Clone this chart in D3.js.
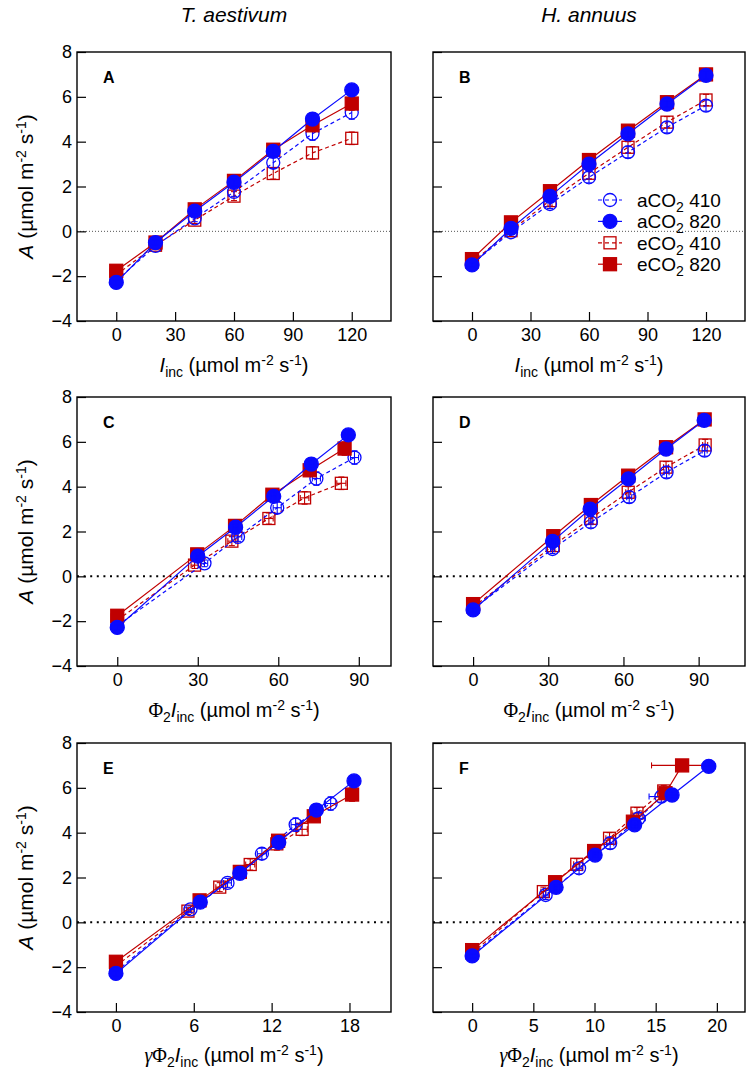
<!DOCTYPE html>
<html><head><meta charset="utf-8">
<script src="https://cdn.jsdelivr.net/npm/d3@7"></script>
<style>body{margin:0;background:#fff}svg{display:block}</style>
</head><body>
<svg id="chart" width="750" height="1075"></svg>
<script>
// ---------------- DATA ----------------
const speciesNames = ["T. aestivum", "H. annuus"];
const seriesNames = ["aCO2 410", "aCO2 820", "eCO2 410", "eCO2 820"];
const iinc = [0, 20, 40, 60, 80, 100, 120];
const subsetIdx = [0, 2, 3, 4, 5, 6]; // points shown in panels C-F

// T. aestivum net assimilation A
const ta_a410_A = [-2.20, -0.65, 0.58, 1.76, 3.06, 4.36, 5.30];
const ta_a820_A = [-2.28, -0.50, 0.90, 2.19, 3.57, 5.01, 6.31];
const ta_e410_A = [-1.95, -0.62, 0.50, 1.57, 2.58, 3.50, 4.15];
const ta_e820_A = [-1.76, -0.50, 0.98, 2.25, 3.64, 4.73, 5.70];
const ta_a410_Ase = [0.12, 0.10, 0.15, 0.20, 0.25, 0.30, 0.30];
const ta_a820_Ase = [0.10, 0.10, 0.12, 0.15, 0.20, 0.20, 0.20];
const ta_e410_Ase = [0.10, 0.10, 0.15, 0.20, 0.25, 0.28, 0.28];
const ta_e820_Ase = [0.10, 0.10, 0.12, 0.15, 0.20, 0.25, 0.30];
// T. aestivum Phi2*Iinc
const ta_a410_phi = [0, 32.5, 45.0, 59.6, 74.2, 88.4];
const ta_a820_phi = [0, 30.0, 44.1, 58.3, 72.3, 86.1];
const ta_e410_phi = [0, 28.8, 42.7, 56.5, 69.8, 83.5];
const ta_e820_phi = [0, 29.8, 43.9, 57.8, 71.7, 84.7];
const ta_a410_phiSe = [0, 1.2, 1.4, 1.5, 1.5, 1.5];
const ta_a820_phiSe = [0, 0.8, 1.0, 1.0, 1.0, 1.2];
const ta_e410_phiSe = [0, 1.3, 1.5, 1.6, 1.6, 1.7];
const ta_e820_phiSe = [0, 0.8, 1.0, 1.0, 1.0, 1.2];
// T. aestivum gamma*Phi2*Iinc
const ta_a410_g = [0, 5.75, 8.60, 11.25, 13.85, 16.55];
const ta_a820_g = [0, 6.50, 9.55, 12.55, 15.45, 18.35];
const ta_e410_g = [0, 5.55, 8.00, 10.35, 12.40, 14.35];
const ta_e820_g = [0, 6.45, 9.55, 12.50, 15.25, 18.20];
const ta_a410_gSe = [0, 0.30, 0.30, 0.35, 0.35, 0.40];
const ta_a820_gSe = [0, 0.20, 0.20, 0.25, 0.25, 0.30];
const ta_e410_gSe = [0, 0.30, 0.30, 0.35, 0.35, 0.40];
const ta_e820_gSe = [0, 0.20, 0.20, 0.25, 0.25, 0.30];

// H. annuus net assimilation A
const ha_a410_A = [-1.45, -0.04, 1.22, 2.41, 3.53, 4.64, 5.61];
const ha_a820_A = [-1.50, 0.13, 1.56, 3.00, 4.35, 5.68, 6.96];
const ha_e410_A = [-1.38, 0.03, 1.37, 2.59, 3.75, 4.87, 5.86];
const ha_e820_A = [-1.24, 0.40, 1.79, 3.18, 4.49, 5.76, 7.00];
const ha_a410_Ase = [0.10, 0.10, 0.20, 0.25, 0.25, 0.25, 0.25];
const ha_a820_Ase = [0.10, 0.10, 0.12, 0.15, 0.15, 0.15, 0.15];
const ha_e410_Ase = [0.10, 0.10, 0.20, 0.25, 0.25, 0.25, 0.25];
const ha_e820_Ase = [0.10, 0.10, 0.12, 0.15, 0.15, 0.15, 0.15];
// H. annuus Phi2*Iinc
const ha_a410_phi = [0, 31.7, 47.0, 62.3, 77.2, 92.4];
const ha_a820_phi = [0, 31.7, 46.7, 62.0, 77.0, 92.2];
const ha_e410_phi = [0, 32.0, 47.0, 61.9, 77.0, 92.6];
const ha_e820_phi = [0, 32.0, 47.0, 61.9, 77.0, 92.4];
const ha_a410_phiSe = [0, 0.8, 0.8, 1.0, 1.0, 1.0];
const ha_a820_phiSe = [0, 0.8, 0.8, 1.0, 1.0, 1.0];
const ha_e410_phiSe = [0, 0.8, 0.8, 1.0, 1.0, 1.0];
const ha_e820_phiSe = [0, 0.8, 0.8, 1.0, 1.0, 1.0];
// H. annuus gamma*Phi2*Iinc
const ha_a410_g = [0, 6.01, 8.74, 11.28, 13.60, 15.46];
const ha_a820_g = [0, 6.86, 10.05, 13.28, 16.34, 19.34];
const ha_e410_g = [0, 5.82, 8.55, 11.23, 13.47, 15.66];
const ha_e820_g = [0, 6.78, 9.97, 13.14, 15.80, 17.16];
const ha_a410_gSe = [0, 0.20, 0.25, 0.30, 0.55, 1.00];
const ha_a820_gSe = [0, 0.20, 0.20, 0.30, 0.40, 0.55];
const ha_e410_gSe = [0, 0.20, 0.25, 0.30, 0.40, 0.40];
const ha_e820_gSe = [0, 0.20, 0.25, 0.30, 0.40, 2.50];

// tick labels
const yTicks = [-4, -2, 0, 2, 4, 6, 8];
const xTicksI = [0, 30, 60, 90, 120];
const xTicksPhi = [0, 30, 60, 90];
const xTicksGTa = [0, 6, 12, 18];
const xTicksGHa = [0, 5, 10, 15, 20];
const panelLetters = ["A", "B", "C", "D", "E", "F"];

// ---------------- STYLE / LAYOUT ----------------
const BLUE = "#0a0aff", RED = "#c00000";
const FONT = "'Liberation Sans', Arial, Helvetica, sans-serif";
const SERIF = "'Liberation Serif', 'Times New Roman', serif";
const colX = [[77, 391], [433, 745]];
const rowY = [52, 397, 743];
const PH = 269;

const seriesStyle = [
  {color: BLUE, shape: "circle", filled: false, dash: "4,3"},
  {color: BLUE, shape: "circle", filled: true, dash: null},
  {color: RED, shape: "square", filled: false, dash: "4,3"},
  {color: RED, shape: "square", filled: true, dash: null}
];

const svg = d3.select("#chart");

const spData = [
  {A: [ta_a410_A, ta_a820_A, ta_e410_A, ta_e820_A],
   Ase: [ta_a410_Ase, ta_a820_Ase, ta_e410_Ase, ta_e820_Ase],
   phi: [ta_a410_phi, ta_a820_phi, ta_e410_phi, ta_e820_phi],
   phiSe: [ta_a410_phiSe, ta_a820_phiSe, ta_e410_phiSe, ta_e820_phiSe],
   g: [ta_a410_g, ta_a820_g, ta_e410_g, ta_e820_g],
   gSe: [ta_a410_gSe, ta_a820_gSe, ta_e410_gSe, ta_e820_gSe]},
  {A: [ha_a410_A, ha_a820_A, ha_e410_A, ha_e820_A],
   Ase: [ha_a410_Ase, ha_a820_Ase, ha_e410_Ase, ha_e820_Ase],
   phi: [ha_a410_phi, ha_a820_phi, ha_e410_phi, ha_e820_phi],
   phiSe: [ha_a410_phiSe, ha_a820_phiSe, ha_e410_phiSe, ha_e820_phiSe],
   g: [ha_a410_g, ha_a820_g, ha_e410_g, ha_e820_g],
   gSe: [ha_a410_gSe, ha_a820_gSe, ha_e410_gSe, ha_e820_gSe]}
];

const xDomains = [
  [[-20, 140], [-20, 140]],
  [[-15, 102], [-16, 108.5]],
  [[-3, 21.2], [-3.2, 22.3]]
];
const xTickSets = [[xTicksI, xTicksI], [xTicksPhi, xTicksPhi], [xTicksGTa, xTicksGHa]];

// rich text: segments with level (0 base, -1 sub, 1 sup)
function rich(t, segs) {
  let cur = 0;
  segs.forEach(s => {
    const lvl = s.lvl || 0;
    const target = lvl === -1 ? 5 : lvl === 1 ? -7 : 0;
    const ts = t.append("tspan").text(s.t);
    if (target !== cur) { ts.attr("dy", target - cur); cur = target; }
    if (lvl !== 0) ts.attr("font-size", 14);
    if (s.it) ts.attr("font-style", "italic");
    if (s.serif) ts.attr("font-family", SERIF);
  });
}
const unitSegs = [{t: " (µmol m"}, {t: "-2", lvl: 1}, {t: " s"}, {t: "-1", lvl: 1}, {t: ")"}];
function xLabelSegs(row) {
  const s = [];
  if (row >= 2) s.push({t: "γ", serif: true, it: true});
  if (row >= 1) { s.push({t: "Φ", serif: true}); s.push({t: "2", lvl: -1}); }
  s.push({t: "I", it: true}); s.push({t: "inc", lvl: -1});
  return s.concat(unitSegs);
}

function drawMarker(g, st, x, y) {
  if (st.shape === "circle") {
    const r = st.filled ? 7 : 6.5;
    g.append("circle").attr("cx", x).attr("cy", y).attr("r", r)
      .attr("fill", st.filled ? st.color : "none")
      .attr("stroke", st.color).attr("stroke-width", 1.3);
  } else {
    const s = st.filled ? 13 : 12;
    g.append("rect").attr("x", x - s / 2).attr("y", y - s / 2).attr("width", s).attr("height", s)
      .attr("fill", st.filled ? st.color : "none")
      .attr("stroke", st.color).attr("stroke-width", 1.3);
  }
}

for (let row = 0; row < 3; row++) {
  for (let col = 0; col < 2; col++) {
    const [x0, x1] = colX[col];
    const top = rowY[row], bot = top + PH;
    const x = d3.scaleLinear().domain(xDomains[row][col]).range([x0, x1]);
    const y = d3.scaleLinear().domain([-4, 8]).range([bot, top]);
    const g = svg.append("g");
    const sp = spData[col];

    // zero line
    const fine = row === 0;
    g.append("line").attr("x1", x0).attr("x2", x1).attr("y1", y(0)).attr("y2", y(0))
      .attr("stroke", fine ? "#555" : "#000")
      .attr("stroke-width", fine ? 1 : 2)
      .attr("stroke-dasharray", fine ? "1,2" : "2,4.6");

    // series
    const order = [2, 0, 3, 1];
    order.forEach(si => {
      const st = seriesStyle[si];
      let pts;
      if (row === 0) {
        pts = iinc.map((xv, i) => ({x: xv, y: sp.A[si][i], xe: 0, ye: sp.Ase[si][i]}));
      } else {
        const xs = row === 1 ? sp.phi[si] : sp.g[si];
        const xse = row === 1 ? sp.phiSe[si] : sp.gSe[si];
        pts = subsetIdx.map((ii, k) => ({x: xs[k], y: sp.A[si][ii], xe: xse[k], ye: sp.Ase[si][ii]}));
      }
      const line = d3.line().x(d => x(d.x)).y(d => y(d.y));
      g.append("path").datum(pts).attr("d", line).attr("fill", "none")
        .attr("stroke", st.color).attr("stroke-width", 1.2)
        .attr("stroke-dasharray", st.dash);
      pts.forEach(p => {
        drawMarker(g, st, x(p.x), y(p.y));
      });
      pts.forEach(p => {
        const eg = g.append("g").attr("stroke", st.color).attr("stroke-width", 1.1);
        if (p.ye > 0) {
          eg.append("line").attr("x1", x(p.x)).attr("x2", x(p.x)).attr("y1", y(p.y - p.ye)).attr("y2", y(p.y + p.ye));
          [p.y - p.ye, p.y + p.ye].forEach(v => eg.append("line").attr("x1", x(p.x) - 3).attr("x2", x(p.x) + 3).attr("y1", y(v)).attr("y2", y(v)));
        }
        if (p.xe > 0) {
          eg.append("line").attr("y1", y(p.y)).attr("y2", y(p.y)).attr("x1", x(p.x - p.xe)).attr("x2", x(p.x + p.xe));
          [p.x - p.xe, p.x + p.xe].forEach(v => eg.append("line").attr("y1", y(p.y) - 3).attr("y2", y(p.y) + 3).attr("x1", x(v)).attr("x2", x(v)));
        }
      });
    });

    // axes (ticks inside)
    const xAxis = d3.axisBottom(x).tickValues(xTickSets[row][col]).tickSize(-9).tickPadding(7).tickFormat(d3.format("d"));
    const ax = g.append("g").attr("transform", `translate(0,${bot})`).call(xAxis);
    const yAxis = d3.axisLeft(y).tickValues(yTicks).tickSize(-9).tickPadding(14).tickFormat(col === 0 ? d3.format("d") : () => "");
    const ay = g.append("g").attr("transform", `translate(${x0},0)`).call(yAxis);
    [ax, ay].forEach(a => {
      a.select(".domain").remove();
      a.selectAll(".tick line").attr("stroke", "#000").attr("stroke-width", 1.2);
      a.selectAll(".tick text").attr("font-family", FONT).attr("font-size", 18).attr("fill", "#000");
    });
    ax.selectAll(".tick text").attr("dy", "0.71em");
    ay.selectAll(".tick text").attr("x", -5).attr("dx", 0);

    // frame
    g.append("rect").attr("x", x0).attr("y", top).attr("width", x1 - x0).attr("height", PH)
      .attr("fill", "none").attr("stroke", "#000").attr("stroke-width", 1.4);

    // panel letter
    g.append("text").attr("x", x0 + 26).attr("y", top + 31).attr("font-family", FONT)
      .attr("font-weight", "bold").attr("font-size", 16).text(panelLetters[row * 2 + col]);

    // x label
    const xl = g.append("text").attr("x", (x0 + x1) / 2).attr("y", bot + (row === 2 ? 50 : 51))
      .attr("text-anchor", "middle").attr("font-family", FONT).attr("font-size", 20);
    rich(xl, xLabelSegs(row));

    // y label
    if (col === 0) {
      const yl = g.append("text").attr("transform", `translate(33,${(top + bot) / 2}) rotate(-90)`)
        .attr("text-anchor", "middle").attr("font-family", FONT).attr("font-size", 21);
      rich(yl, [{t: "A", it: true}].concat(unitSegs));
    }
  }
}

// species titles
speciesNames.forEach((s, i) => {
  svg.append("text").attr("x", (colX[i][0] + colX[i][1]) / 2).attr("y", 22)
    .attr("text-anchor", "middle").attr("font-family", FONT).attr("font-style", "italic")
    .attr("font-size", 21).text(s);
});

// legend in panel B
const lg = svg.append("g");
seriesNames.forEach((name, i) => {
  const st = seriesStyle[i];
  const cy = 200 + i * 21.4;
  lg.append("line").attr("x1", 598).attr("x2", 622).attr("y1", cy).attr("y2", cy)
    .attr("stroke", st.color).attr("stroke-width", 1.2).attr("stroke-dasharray", st.dash);
  drawMarker(lg, st, 610, cy);
  const t = lg.append("text").attr("x", 637).attr("y", cy + 7).attr("font-family", FONT).attr("font-size", 19);
  const parts = name.split(" ");
  rich(t, [{t: parts[0].slice(0, 3)}, {t: parts[0].slice(3), lvl: -1}, {t: " " + parts[1]}]);
});
</script>
</body></html>
